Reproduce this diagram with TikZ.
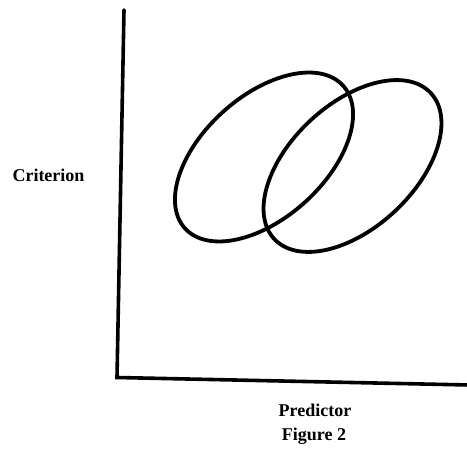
\documentclass[tikz,border=0pt]{standalone}
\usepackage{fontspec}
\setmainfont{Liberation Serif}
\begin{document}
\begin{tikzpicture}[x=1pt,y=1pt,
  axis/.style={line width=3.6pt, line cap=round, line join=miter},
  oval/.style={line width=3.8pt},
  lbl/.style={font=\bfseries\fontsize{18}{20}\selectfont, inner sep=0pt}]
\useasboundingbox (0,0) rectangle (467,456);
\coordinate (top) at (124,446);
\coordinate (origin) at (117,78.5);
\coordinate (right) at (469,71);
\draw[axis] (top) -- (origin) -- (right);
\draw[oval] (264,299) ellipse [x radius=106.5, y radius=61, rotate=42];
\draw[oval] (352.5,290) ellipse [x radius=107, y radius=62, rotate=43];
\node[lbl] (crit) at (48.5,281) {Criterion};
\node[lbl] (pred) at (315,46) {Predictor};
\node[lbl] (fig) at (314,20) {Figure 2};
\end{tikzpicture}
\end{document}
